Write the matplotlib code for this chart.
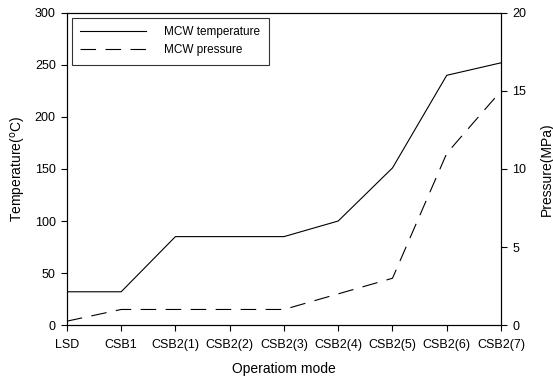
import numpy as np
import matplotlib.pyplot as plt

plt.rcParams['font.family'] = ['Liberation Sans', 'DejaVu Sans']

modes = ['LSD', 'CSB1', 'CSB2(1)', 'CSB2(2)', 'CSB2(3)', 'CSB2(4)',
         'CSB2(5)', 'CSB2(6)', 'CSB2(7)']
temperature = [32, 32, 85, 85, 85, 100, 151, 240, 252]
pressure = [0.25, 1, 1, 1, 1, 2, 3, 11, 15]

fig = plt.figure(figsize=(5.53, 3.78), dpi=100)
ax = fig.add_axes([0.121, 0.140, 0.785, 0.826])
x = np.arange(len(modes))

l1, = ax.plot(x, temperature, color='black', lw=0.8, label='MCW temperature')
ax.set_xlim(0, len(modes) - 1)
ax.set_ylim(0, 300)
ax.set_yticks(np.arange(0, 301, 50))
ax.set_xticks(x)
ax.set_xticklabels(modes)
ax.set_xlabel('Operatiom mode', fontsize=10, labelpad=8)
ax.set_ylabel('Temperature($^{\\rm o}$C)', fontsize=10, labelpad=5)

ax2 = ax.twinx()
l2, = ax2.plot(x, pressure, color='black', lw=0.8, dashes=(14, 8.5),
               label='MCW pressure')
ax2.set_ylim(0, 20)
ax2.set_yticks(np.arange(0, 21, 5))
ax2.set_ylabel('Pressure(MPa)', fontsize=10, labelpad=10)

for a in (ax, ax2):
    a.tick_params(direction='out', length=4, width=0.8, labelsize=9,
                  pad=4)
    for s in a.spines.values():
        s.set_linewidth(0.8)
ax.tick_params(axis='x', pad=6)

leg = ax.legend(handles=[l1, l2], loc='upper left', fontsize=8.5,
                frameon=True, fancybox=False, edgecolor='black',
                handlelength=5.55, handletextpad=1.55,
                borderpad=0.75, labelspacing=0.45,
                bbox_to_anchor=(0.0, 1.0), borderaxespad=0.4)
leg.get_frame().set_linewidth(0.8)

fig.savefig('out.png', dpi=100)
